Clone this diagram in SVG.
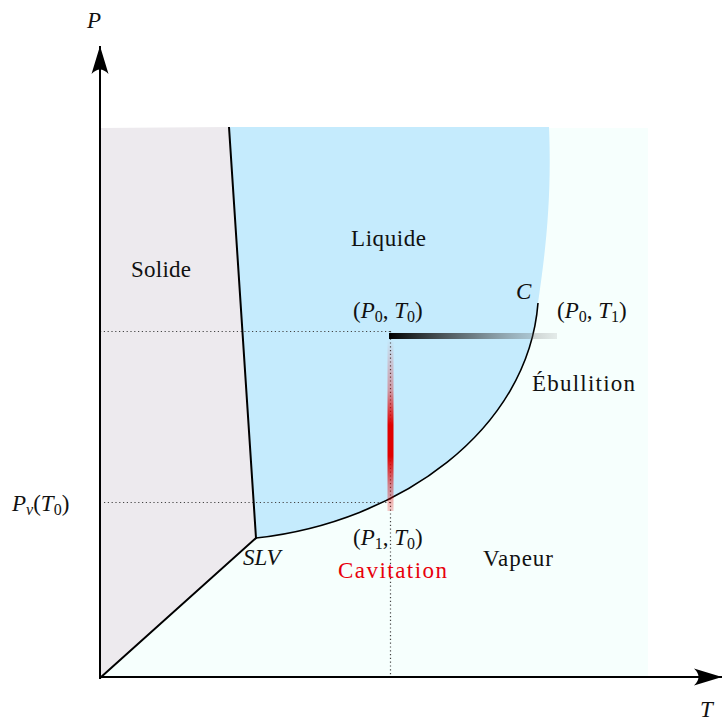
<svg xmlns="http://www.w3.org/2000/svg" width="723" height="724" viewBox="0 0 723 724">
<style>
text{font-family:"Liberation Serif","Noto Serif","DejaVu Serif",serif;font-size:23px;fill:#111}
.it{font-style:italic}
.sub{font-size:16px}
.border{fill:none;stroke:#000;stroke-width:2}
.dot{fill:none;stroke:#444;stroke-width:1.2;stroke-dasharray:1.2 2.6}
</style>
<defs>
<linearGradient id="gH" x1="0" y1="0" x2="1" y2="0">
<stop offset="0" stop-color="#000" stop-opacity="1"/>
<stop offset="0.5" stop-color="#333" stop-opacity="0.6"/>
<stop offset="1" stop-color="#777" stop-opacity="0.15"/>
</linearGradient>
<linearGradient id="gV" x1="0" y1="0" x2="0" y2="1">
<stop offset="0" stop-color="#e00000" stop-opacity="0"/>
<stop offset="0.3" stop-color="#e00000" stop-opacity="0.35"/>
<stop offset="0.5" stop-color="#e00000" stop-opacity="1"/>
<stop offset="0.68" stop-color="#e00000" stop-opacity="1"/>
<stop offset="0.85" stop-color="#e00000" stop-opacity="0.45"/>
<stop offset="1" stop-color="#e00000" stop-opacity="0.2"/>
</linearGradient>
<marker id="arr" viewBox="0 0 30 20" refX="28" refY="10" markerWidth="30" markerHeight="20" markerUnits="userSpaceOnUse" orient="auto">
<path d="M28,10 L0,1.5 Q9,10 0,18.5 Z" fill="#000"/>
</marker>
</defs>
<g id="regions">
<rect id="vapeur-zone" x="100" y="128" width="548" height="550" fill="#f6fffd"/>
<path id="solide-zone" d="M100,128 L229,127 L256,538 L100,678 Z" fill="#edeaee"/>
<path id="liquide-zone" d="M229,127 L256,538 C400,522 528,430 538,303 C545,255 552,200 549,127 Z" fill="#c5ebfd"/>
</g>
<g id="connectors">
<line class="dot" x1="100" y1="331.5" x2="390" y2="331.5"/>
<line class="dot" x1="104" y1="502.5" x2="390" y2="502.5" stroke="#777"/>
<line class="dot" x1="390.5" y1="331" x2="390.5" y2="678"/>
<path class="border" d="M229,127 L256,538 L100,678"/>
<path d="M256,538 C400,522 528,430 538,303" fill="none" stroke="#000" stroke-width="1.6"/>
<rect x="389" y="333" width="168" height="6" fill="url(#gH)"/>
<rect x="387.5" y="339" width="6" height="172" fill="url(#gV)"/>
<line x1="100" y1="679" x2="100" y2="46" stroke="#000" stroke-width="2" marker-end="url(#arr)"/>
<line x1="99" y1="677" x2="722" y2="677" stroke="#000" stroke-width="2" marker-end="url(#arr)"/>
</g>
<g id="labels">
<text class="it" x="87" y="28">P</text>
<text class="it" x="700" y="717">T</text>
<text x="131" y="277" textLength="60">Solide</text>
<text x="351" y="246" textLength="75">Liquide</text>
<text x="483" y="566" textLength="70">Vapeur</text>
<text x="532" y="391" textLength="103">Ébullition</text>
<text class="it" x="516" y="299">C</text>
<text x="338" y="578" style="fill:#e8000b" textLength="109">Cavitation</text>
<text class="it" x="243" y="565">SLV</text>
<text x="353" y="318">(<tspan class="it">P</tspan><tspan class="sub" dy="4">0</tspan><tspan dy="-4">, </tspan><tspan class="it">T</tspan><tspan class="sub" dy="4">0</tspan><tspan dy="-4">)</tspan></text>
<text x="557" y="318">(<tspan class="it">P</tspan><tspan class="sub" dy="4">0</tspan><tspan dy="-4">, </tspan><tspan class="it">T</tspan><tspan class="sub" dy="4">1</tspan><tspan dy="-4">)</tspan></text>
<text x="353" y="545">(<tspan class="it">P</tspan><tspan class="sub" dy="4">1</tspan><tspan dy="-4">, </tspan><tspan class="it">T</tspan><tspan class="sub" dy="4">0</tspan><tspan dy="-4">)</tspan></text>
<text x="12" y="511"><tspan class="it">P</tspan><tspan class="sub it" dy="4">v</tspan><tspan dy="-4">(</tspan><tspan class="it">T</tspan><tspan class="sub" dy="4">0</tspan><tspan dy="-4">)</tspan></text>
</g>
</svg>
